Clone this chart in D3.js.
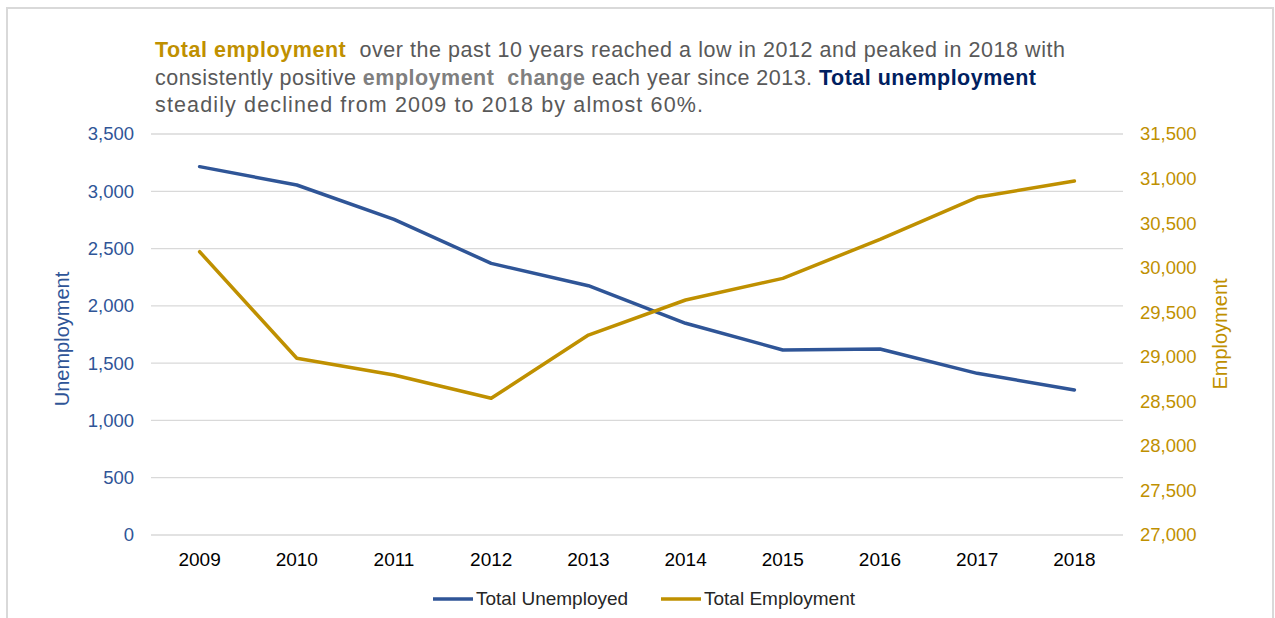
<!DOCTYPE html>
<html>
<head>
<meta charset="utf-8">
<script src="https://cdn.jsdelivr.net/npm/d3@7"></script>
<style>
  body { margin: 0; background: #fff; }
  text { font-family: "Liberation Sans", Arial, sans-serif; }
</style>
</head>
<body>
<svg width="1275" height="618"></svg>
<script>
var years = ["2009", "2010", "2011", "2012", "2013", "2014", "2015", "2016", "2017", "2018"];
var unemployed = [3215, 3055, 2755, 2371, 2176, 1848, 1615, 1623, 1411, 1266];
var employment = [30179, 28983, 28796, 28534, 29244, 29637, 29880, 30318, 30790, 30973];
var leftTicks = [0, 500, 1000, 1500, 2000, 2500, 3000, 3500];
var rightTicks = [27000, 27500, 28000, 28500, 29000, 29500, 30000, 30500, 31000, 31500];

var blue = "#2F5597";
var gold = "#BF9000";
var navy = "#002060";
var grey = "#595959";

var svg = d3.select("svg");

// chart frame
svg.append("rect")
  .attr("x", 7).attr("y", 8)
  .attr("width", 1266).attr("height", 620)
  .attr("fill", "none")
  .attr("stroke", "#d9d9d9")
  .attr("stroke-width", 2);

var x = d3.scaleBand().domain(years).range([151, 1123]);
var yL = d3.scaleLinear().domain([0, 3500]).range([535, 134]);
var yR = d3.scaleLinear().domain([27000, 31500]).range([535, 134]);
var fmt = d3.format(",");

// gridlines
svg.append("g")
  .selectAll("line")
  .data(leftTicks)
  .enter()
  .append("line")
  .attr("x1", 151).attr("x2", 1123)
  .attr("y1", yL).attr("y2", yL)
  .attr("stroke", "#d9d9d9")
  .attr("stroke-width", 1.3);

// left axis
var gl = svg.append("g")
  .attr("transform", "translate(134,0)")
  .call(d3.axisLeft(yL).tickValues(leftTicks).tickFormat(fmt).tickSize(0).tickPadding(0));
gl.select(".domain").remove();
gl.selectAll("text")
  .attr("fill", blue)
  .style("font-size", "18.5px")
  .style("font-family", "Liberation Sans, Arial, sans-serif");

// right axis
var gr = svg.append("g")
  .attr("transform", "translate(1140,0)")
  .call(d3.axisRight(yR).tickValues(rightTicks).tickFormat(fmt).tickSize(0).tickPadding(0));
gr.select(".domain").remove();
gr.selectAll("text")
  .attr("fill", gold)
  .style("font-size", "18.5px")
  .style("font-family", "Liberation Sans, Arial, sans-serif");

// x axis
var gx = svg.append("g")
  .attr("transform", "translate(0,545)")
  .call(d3.axisBottom(x).tickSize(0).tickPadding(8));
gx.select(".domain").remove();
gx.selectAll("text")
  .attr("fill", "#000")
  .style("font-size", "19px")
  .style("font-family", "Liberation Sans, Arial, sans-serif");

// axis titles
svg.append("text")
  .attr("transform", "translate(69,339) rotate(-90)")
  .attr("text-anchor", "middle")
  .attr("fill", blue)
  .style("font-size", "20px")
  .text("Unemployment");

svg.append("text")
  .attr("transform", "translate(1227,334) rotate(-90)")
  .attr("text-anchor", "middle")
  .attr("fill", gold)
  .style("font-size", "20px")
  .text("Employment");

// lines
function cx(d, i) { return x(years[i]) + x.bandwidth() / 2; }

svg.append("path")
  .datum(unemployed)
  .attr("fill", "none")
  .attr("stroke", blue)
  .attr("stroke-width", 3.5)
  .attr("stroke-linecap", "round")
  .attr("stroke-linejoin", "round")
  .attr("d", d3.line().x(cx).y(function(d) { return yL(d); }));

svg.append("path")
  .datum(employment)
  .attr("fill", "none")
  .attr("stroke", gold)
  .attr("stroke-width", 3.5)
  .attr("stroke-linecap", "round")
  .attr("stroke-linejoin", "round")
  .attr("d", d3.line().x(cx).y(function(d) { return yR(d); }));

// title, each line stretched to the width it has in the original
var title = [
  [["Total employment", gold, true], ["  over the past 10 years reached a low in 2012 and peaked in 2018 with", grey, false]],
  [["consistently positive ", grey, false], ["employment  change", "#7f7f7f", true], [" each year since 2013. ", grey, false], ["Total unemployment", navy, true]],
  [["steadily declined from 2009 to 2018 by almost 60%.", grey, false]]
];
var lineWidths = [910, 881, 548];
title.forEach(function(line, i) {
  var t = svg.append("text")
    .attr("x", 155)
    .attr("y", 57 + i * 27.5)
    .style("font-size", "21.5px")
    .attr("xml:space", "preserve")
    .style("white-space", "pre");
  line.forEach(function(s) {
    t.append("tspan")
      .attr("fill", s[1])
      .style("font-weight", s[2] ? "bold" : "normal")
      .text(s[0]);
  });
  t.attr("textLength", lineWidths[i]).attr("lengthAdjust", "spacing");
});

// legend
var legend = [["Total Unemployed", blue, 433], ["Total Employment", gold, 661]];
legend.forEach(function(l) {
  svg.append("line")
    .attr("x1", l[2]).attr("x2", l[2] + 40)
    .attr("y1", 599).attr("y2", 599)
    .attr("stroke", l[1])
    .attr("stroke-width", 3.5);
  svg.append("text")
    .attr("x", l[2] + 43)
    .attr("y", 605)
    .attr("fill", "#262626")
    .style("font-size", "19px")
    .text(l[0]);
});
</script>
</body>
</html>
